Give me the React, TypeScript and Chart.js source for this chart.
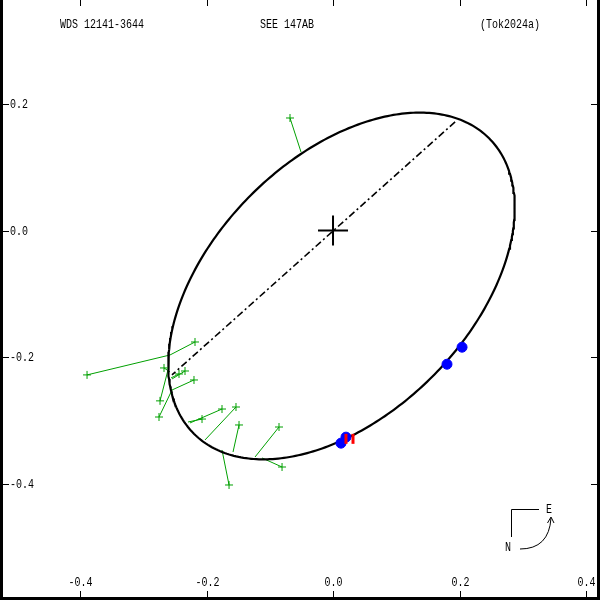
import React, { useEffect, useRef } from "react";
import { Chart, registerables } from "chart.js";
Chart.register(...registerables);

const TITLE_LEFT = "WDS 12141-3644";
const TITLE_MID = "SEE 147AB";
const TITLE_RIGHT = "(Tok2024a)";

const X_TICKS = [-0.4, -0.2, 0, 0.2, 0.4];
const X_TICK_LABELS = ["-0.4", "-0.2", "0.0", "0.2", "0.4"];
const Y_TICKS = [0.2, 0, -0.2, -0.4];
const Y_TICK_LABELS = ["0.2", "0.0", "-0.2", "-0.4"];

const X_MIN = -0.5265;
const X_MAX = 0.4221;
const Y_MIN = -0.5836;
const Y_MAX = 0.3643;

// apparent orbit ellipse
const ORBIT_CX = 0.0134;
const ORBIT_CY = -0.0875;
const ORBIT_A = 0.33;
const ORBIT_B = 0.2028;
const ORBIT_ANGLE_DEG = 45;

// line of nodes
const NODE_X = [0.193, -0.2546];
const NODE_Y = [0.1717, -0.228];

// observed positions (green) and their predicted positions on the orbit
const OBS_X = [-0.068, -0.3889, -0.2182, -0.2735, -0.2672, -0.2435, -0.234, -0.2198, -0.2751, -0.1755, -0.2071, -0.1534, -0.1486, -0.1644, -0.0854, -0.0806];
const OBS_Y = [0.1779, -0.228, -0.176, -0.269, -0.217, -0.2265, -0.2218, -0.236, -0.2945, -0.2819, -0.2977, -0.2787, -0.3071, -0.4019, -0.3103, -0.3735];
const PRED_X = [-0.0506, -0.2577, -0.2577, -0.2609, -0.2577, -0.2561, -0.2545, -0.2545, -0.2545, -0.2261, -0.2292, -0.2024, -0.1581, -0.1755, -0.1233, -0.1123];
const PRED_Y = [0.1242, -0.1965, -0.1965, -0.2202, -0.2233, -0.2328, -0.2344, -0.2518, -0.2518, -0.3039, -0.3024, -0.3308, -0.3498, -0.3466, -0.3577, -0.3592];

// interferometric measures (blue) and red marks
const BLUE_X = [0.204, 0.1802, 0.0126, 0.0205];
const BLUE_Y = [-0.1842, -0.2111, -0.3358, -0.3263];
const RED_X = [0.0205, 0.0316];
const RED_Y = [-0.329, -0.329];

const FONT = '10px "Liberation Mono", "DejaVu Sans Mono", monospace';

function ellipsePoints() {
  const pts: { x: number; y: number }[] = [];
  const th = (ORBIT_ANGLE_DEG * Math.PI) / 180;
  for (let i = 0; i <= 360; i++) {
    const t = (i * Math.PI) / 180;
    const u = ORBIT_A * Math.cos(t);
    const v = ORBIT_B * Math.sin(t);
    pts.push({
      x: ORBIT_CX + u * Math.cos(th) - v * Math.sin(th),
      y: ORBIT_CY + u * Math.sin(th) + v * Math.cos(th),
    });
  }
  return pts;
}

const framePlugin = {
  id: "framePlugin",
  afterDraw(chart: any) {
    const ctx = chart.ctx as CanvasRenderingContext2D;
    const xs = chart.scales.x;
    const ys = chart.scales.y;
    const W = chart.width;
    const H = chart.height;
    ctx.save();
    ctx.fillStyle = "#000";
    // frame
    ctx.fillRect(0, 0, 3, H);
    ctx.fillRect(W - 3, 0, 3, H);
    ctx.fillRect(0, H - 3, W, 3);
    ctx.font = FONT;
    // x ticks
    X_TICKS.forEach((v, i) => {
      const px = Math.round(xs.getPixelForValue(v));
      ctx.fillRect(px, 0, 1, 6);
      ctx.fillRect(px, H - 9, 1, 6);
      ctx.textAlign = "center";
      ctx.textBaseline = "middle";
      ctx.save();
      ctx.translate(px + 0.5, H - 17);
      ctx.scale(1, 1.3);
      ctx.fillText(X_TICK_LABELS[i], 0, 0);
      ctx.restore();
    });
    Y_TICKS.forEach((v, i) => {
      const py = Math.round(ys.getPixelForValue(v));
      ctx.fillRect(3, py, 6, 1);
      ctx.fillRect(W - 9, py, 6, 1);
      ctx.textAlign = "left";
      ctx.textBaseline = "middle";
      ctx.save();
      ctx.translate(10, py + 0.5);
      ctx.scale(1, 1.3);
      ctx.fillText(Y_TICK_LABELS[i], 0, 0);
      ctx.restore();
    });
    // titles
    const titles: [string, number][] = [
      [TITLE_LEFT, 60],
      [TITLE_MID, 260],
      [TITLE_RIGHT, 480],
    ];
    titles.forEach(([t, x]) => {
      ctx.save();
      ctx.textAlign = "left";
      ctx.textBaseline = "middle";
      ctx.translate(x, 25);
      ctx.scale(1, 1.3);
      ctx.fillText(t, 0, 0);
      ctx.restore();
    });
    // compass
    const cx = W - 89;
    const cy = H - 91;
    ctx.strokeStyle = "#000";
    ctx.lineWidth = 1;
    ctx.beginPath();
    ctx.moveTo(cx + 0.5, cy + 28);
    ctx.lineTo(cx + 0.5, cy + 0.5);
    ctx.lineTo(cx + 28, cy + 0.5);
    ctx.stroke();
    ctx.beginPath();
    ctx.moveTo(cx + 9, cy + 40);
    ctx.quadraticCurveTo(cx + 38, cy + 40, cx + 40, cy + 9);
    ctx.stroke();
    ctx.beginPath();
    ctx.moveTo(cx + 36.5, cy + 14);
    ctx.lineTo(cx + 40, cy + 8);
    ctx.lineTo(cx + 43, cy + 14);
    ctx.stroke();
    ctx.textAlign = "center";
    ctx.textBaseline = "middle";
    [["E", cx + 38, cy + 1], ["N", cx - 3, cy + 39]].forEach(([t, x, y]: any) => {
      ctx.save();
      ctx.translate(x, y);
      ctx.scale(1, 1.3);
      ctx.fillText(t, 0, 0);
      ctx.restore();
    });
    ctx.restore();
  },
};

export default function App() {
  const ref = useRef<HTMLCanvasElement | null>(null);
  useEffect(() => {
    if (!ref.current) return;
    const ocLines = OBS_X.map((x, i) => ({
      type: "scatter" as const,
      data: [
        { x, y: OBS_Y[i] },
        { x: PRED_X[i], y: PRED_Y[i] },
      ],
      showLine: true,
      borderColor: "#00a000",
      borderWidth: 1,
      pointRadius: 0,
      order: 5,
    }));
    const chart = new Chart(ref.current, {
      type: "scatter",
      data: {
        datasets: [
          {
            data: ellipsePoints(),
            showLine: true,
            borderColor: "#000",
            borderWidth: 2.2,
            pointRadius: 0,
            order: 4,
          } as any,
          {
            data: NODE_X.map((x, i) => ({ x, y: NODE_Y[i] })),
            showLine: true,
            borderColor: "#000",
            borderWidth: 1.6,
            borderDash: [7, 3, 2, 3],
            pointRadius: 0,
            order: 4,
          },
          ...ocLines,
          {
            data: OBS_X.map((x, i) => ({ x, y: OBS_Y[i] })),
            pointStyle: "cross",
            pointRadius: 4,
            borderColor: "#00a000",
            borderWidth: 1,
            order: 3,
          },
          {
            data: BLUE_X.map((x, i) => ({ x, y: BLUE_Y[i] })),
            pointStyle: "circle",
            pointRadius: 5,
            backgroundColor: "#0000ff",
            borderColor: "#0000ff",
            borderWidth: 1,
            order: 2,
          },
          {
            data: RED_X.map((x, i) => ({ x, y: RED_Y[i] })),
            pointStyle: "line",
            rotation: 90,
            pointRadius: 5,
            borderColor: "#ff0000",
            borderWidth: 3,
            order: 1,
          },
          {
            data: [{ x: 0, y: 0 }],
            pointStyle: "cross",
            pointRadius: 15,
            borderColor: "#000",
            borderWidth: 2,
            order: 0,
          },
        ],
      },
      options: {
        animation: false,
        responsive: false,
        devicePixelRatio: 1,
        layout: { padding: 0, autoPadding: false },
        plugins: { legend: { display: false }, tooltip: { enabled: false } },
        events: [],
        scales: {
          x: { type: "linear", min: X_MIN, max: X_MAX, display: false },
          y: { type: "linear", min: Y_MIN, max: Y_MAX, display: false },
        },
      },
      plugins: [framePlugin],
    });
    return () => chart.destroy();
  }, []);
  return (
    <div style={{ position: "absolute", left: 0, top: 0, width: 600, height: 600, background: "#fff" }}>
      <canvas ref={ref} width={600} height={600} />
    </div>
  );
}
